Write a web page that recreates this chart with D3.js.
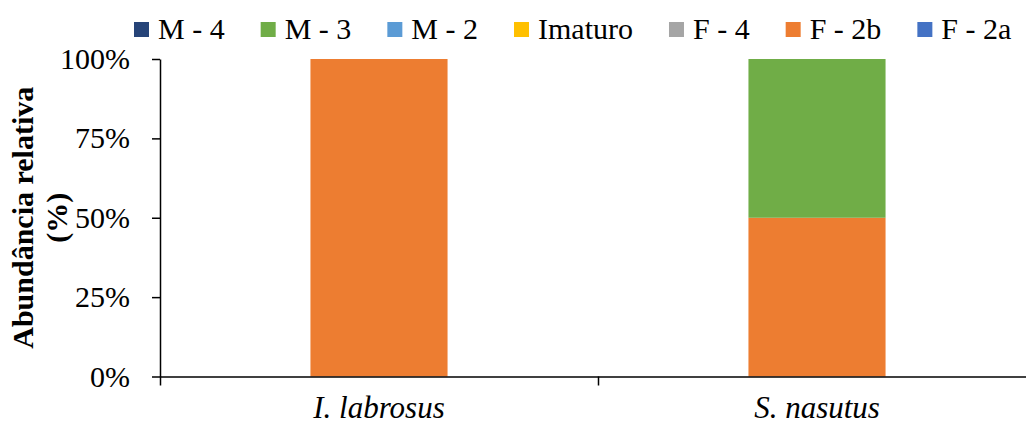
<!DOCTYPE html>
<html>
<head>
<meta charset="utf-8">
<script src="https://cdn.jsdelivr.net/npm/d3@7"></script>
<style>
  html, body { margin: 0; padding: 0; background: #fff; }
  svg { display: block; }
  svg text { font-family: "Times New Roman", "Liberation Serif", Tinos, "DejaVu Serif", serif !important; fill: #000; }
</style>
</head>
<body>
<svg id="chart" width="1026" height="426"></svg>
<script>
// ---- data ----
const categories = ["I. labrosus", "S. nasutus"];
// stack order, bottom to top
const seriesNames = ["F - 2a", "F - 2b", "F - 4", "Imaturo", "M - 2", "M - 3", "M - 4"];
const seriesColors = ["#4472C4", "#ED7D31", "#A5A5A5", "#FFC000", "#5B9BD5", "#70AD47", "#264478"];
const valuesF2a     = [0, 0];
const valuesF2b     = [1.0, 0.5];
const valuesF4      = [0, 0];
const valuesImaturo = [0, 0];
const valuesM2      = [0, 0];
const valuesM3      = [0, 0.5];
const valuesM4      = [0, 0];
const yTicks = [0, 0.25, 0.5, 0.75, 1];
const yTitleLines = ["Abundância relativa", "(%)"];

const seriesValues = [valuesF2a, valuesF2b, valuesF4, valuesImaturo, valuesM2, valuesM3, valuesM4];
const table = categories.map((c, i) => {
  const row = { category: c };
  seriesNames.forEach((s, j) => row[s] = seriesValues[j][i]);
  return row;
});

const FONT = '"Times New Roman", "Liberation Serif", Tinos, "DejaVu Serif", serif';
const svg = d3.select("#chart");
const plotLeft = 160, plotRight = 1036, plotTop = 59, plotBottom = 376.5;

const x = d3.scaleBand().domain(categories).range([plotLeft, plotRight])
  .paddingInner(0.687).paddingOuter(0.3435);
const xEdge = d3.scaleLinear().domain([0, categories.length]).range([plotLeft, plotRight]);
const y = d3.scaleLinear().domain([0, 1]).range([plotBottom, plotTop]);
const color = d3.scaleOrdinal().domain(seriesNames).range(seriesColors);

const stack = d3.stack().keys(seriesNames)(table);

svg.append("g").selectAll("g").data(stack).join("g")
  .attr("fill", d => color(d.key))
  .selectAll("rect").data(d => d.filter(p => p[1] - p[0] > 0)).join("rect")
  .attr("x", d => x(d.data.category))
  .attr("width", x.bandwidth())
  .attr("y", d => y(d[1]))
  .attr("height", d => y(d[0]) - y(d[1]));

// y axis
const yAxis = svg.append("g").attr("transform", `translate(${plotLeft},0)`)
  .call(d3.axisLeft(y).tickValues(yTicks).tickFormat(d3.format(".0%")).tickSize(8).tickSizeOuter(0).tickPadding(22));
yAxis.attr("font-family", FONT);
yAxis.selectAll("path, line").attr("stroke", "#000").attr("stroke-width", 1.5);
yAxis.selectAll("text").attr("font-size", 30).attr("fill", "#000");

// x axis
const xAxis = svg.append("g").attr("transform", `translate(0,${plotBottom})`)
  .call(d3.axisBottom(xEdge).tickValues(d3.range(categories.length + 1)).tickFormat("").tickSize(9).tickSizeOuter(0));
xAxis.selectAll("path, line").attr("stroke", "#000").attr("stroke-width", 1.5);

svg.append("g").attr("font-family", FONT).selectAll("text").data(categories).join("text")
  .attr("x", d => x(d) + x.bandwidth() / 2)
  .attr("y", 418)
  .attr("text-anchor", "middle")
  .attr("font-size", 31)
  .attr("font-style", "italic")
  .text(d => d);

// y title
const yt = svg.append("text")
  .attr("font-family", FONT)
  .attr("transform", `translate(0,${(plotTop + plotBottom) / 2}) rotate(-90)`)
  .attr("text-anchor", "middle")
  .attr("font-size", 30)
  .attr("font-weight", "bold");
yTitleLines.forEach((t, i) => {
  yt.append("tspan").attr("x", 0).attr("y", i === 0 ? 33 : 67).text(t);
});

// legend
const legendOrder = seriesNames.slice().reverse();
const lg = svg.append("g").attr("font-family", FONT);
let lx = 134;
legendOrder.forEach(name => {
  lg.append("rect").attr("x", lx).attr("y", 22).attr("width", 15).attr("height", 15).attr("fill", color(name));
  const t = lg.append("text").attr("x", lx + 24).attr("y", 39).attr("font-size", 30).text(name);
  lx += 24 + t.node().getComputedTextLength() + 36;
});
</script>
</body>
</html>
